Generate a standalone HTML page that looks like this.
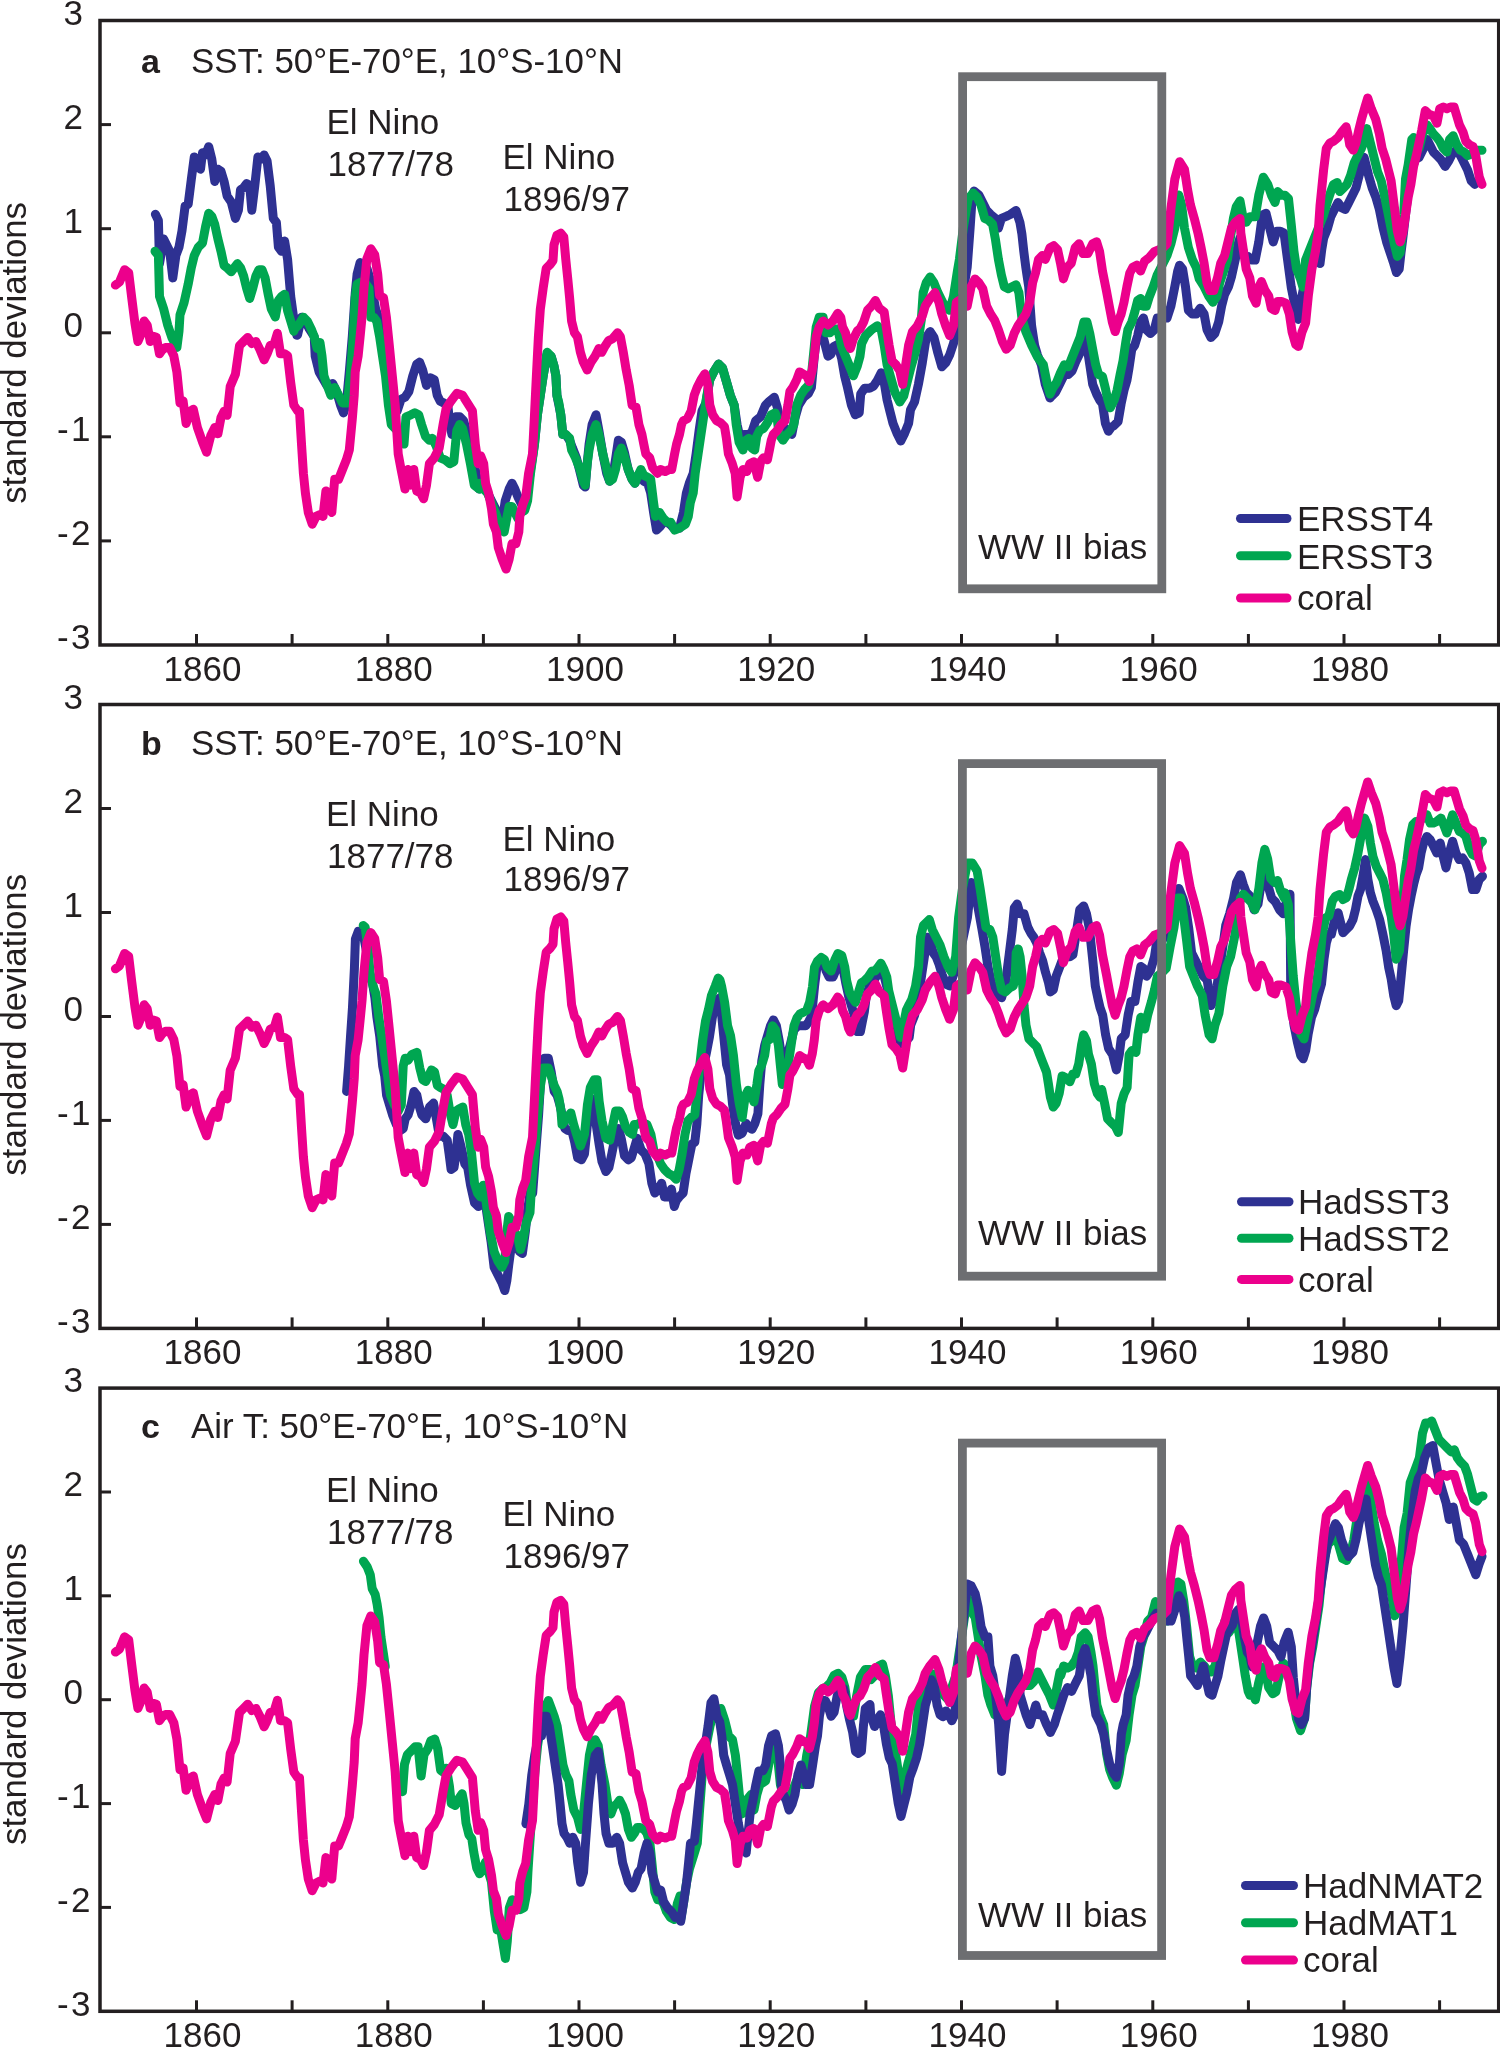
<!DOCTYPE html><html><head><meta charset="utf-8"><style>html,body{margin:0;padding:0;background:#fff;overflow:hidden;width:1500px;height:2048px;}svg{display:block;will-change:transform;}</style></head><body>
<svg width="1500" height="2048" viewBox="0 0 1500 2048" font-family="Liberation Sans, sans-serif" font-size="34" fill="#231f20">
<rect width="1500" height="2048" fill="#fff"/>
<polyline points="155.4,214.3 158.4,220.5 159.5,263.6 163.6,238.9 165.6,243.0 169.7,251.3 172.8,277.9 175.9,255.4 179.0,247.1 182.0,230.7 185.1,206.1 188.2,204.1 191.3,179.5 194.3,156.9 197.4,161.0 200.5,169.2 202.5,152.8 205.6,154.9 208.7,146.7 211.8,159.0 214.8,181.5 217.9,169.2 221.0,171.3 224.1,181.5 227.1,195.9 231.2,202.0 235.4,218.4 238.4,210.2 240.5,189.7 243.6,187.7 246.6,183.6 249.7,185.6 251.8,210.2 254.8,185.6 257.9,156.9 261.0,159.0 264.1,154.9 267.1,161.0 270.2,185.6 273.3,218.4 276.4,222.5 278.4,247.1 281.5,251.3 284.6,241.0 287.6,259.5 290.7,296.4 293.8,318.9 296.9,335.3 297.6,334.8 301.5,317.2 305.4,321.1 309.3,328.9 314.2,336.7 315.2,356.2 319.1,371.9 326.9,385.5 332.7,383.6 336.6,391.4 340.5,405.1 343.5,412.9 346.4,403.1 349.3,371.9 352.3,336.7 355.2,293.8 357.1,274.2 360.1,262.5 364.0,264.5 366.9,268.4 369.8,278.1 372.8,293.8 375.7,309.4 378.6,317.2 381.6,332.8 385.5,360.2 388.4,387.5 391.3,407.0 397.2,410.9 401.1,399.2 405.0,397.3 408.9,391.4 412.8,375.8 416.7,364.1 419.6,362.1 422.6,369.9 426.5,385.5 430.4,377.7 434.3,379.7 437.2,395.3 440.2,401.2 444.1,403.1 448.0,407.0 449.9,424.6 451.9,434.4 455.8,416.8 459.7,416.8 463.6,420.7 467.5,434.4 471.4,452.0 475.3,469.5 479.2,489.1 483.7,487.1 487.6,493.0 491.5,500.8 495.4,508.6 499.3,520.3 502.2,522.3 505.2,500.8 509.1,489.1 512.0,483.2 514.9,489.1 517.9,496.9 521.8,504.7 525.7,498.8 528.6,483.2 531.5,463.7 534.5,444.1 537.4,414.8 540.3,395.3 543.2,375.8 547.1,354.3 551.1,356.2 554.0,366.0 555.9,375.8 556.9,395.3 558.9,405.1 560.8,414.8 562.8,434.4 565.7,434.4 569.6,440.2 572.5,448.0 576.4,457.8 579.4,469.5 583.3,485.2 585.2,487.1 587.2,463.7 589.1,444.1 592.1,424.6 596.0,414.8 598.9,430.5 602.8,453.9 606.7,473.4 609.6,481.2 612.6,477.3 615.5,459.8 618.4,440.2 621.4,442.2 624.3,452.0 628.2,469.5 632.1,479.3 635.0,483.2 638.0,475.4 640.9,473.4 643.8,481.2 647.7,483.2 650.7,493.0 653.6,512.5 656.5,530.1 660.4,526.2 663.4,522.3 667.3,522.3 670.0,524.2 673.7,528.1 679.5,528.1 683.4,512.5 686.4,493.0 689.3,483.2 693.2,473.4 696.1,453.9 699.1,430.5 702.0,410.9 705.9,403.1 709.8,379.7 713.7,371.9 718.6,364.1 722.5,368.0 726.4,381.6 730.3,395.3 734.2,405.1 737.1,424.6 740.1,438.3 744.0,434.4 747.9,434.4 751.8,432.4 755.7,420.7 760.6,416.8 765.5,405.1 769.4,401.2 774.3,397.3 777.2,407.0 780.1,422.7 785.0,428.5 788.9,430.5 791.8,434.4 794.8,418.8 798.7,405.1 803.6,397.3 808.4,393.4 811.4,387.5 814.3,356.2 817.2,332.8 820.2,328.9 824.1,340.6 828.0,356.2 830.9,354.3 833.8,346.5 837.7,344.5 841.6,358.2 844.6,375.8 847.5,387.5 851.4,405.1 855.3,414.8 859.2,412.9 860.7,394.1 864.6,388.3 869.5,388.3 873.4,386.3 877.3,380.5 881.2,372.7 884.2,382.4 887.1,400.0 890.0,411.7 893.0,423.4 896.9,433.2 900.8,441.0 904.7,433.2 908.6,423.4 910.5,409.8 914.5,402.0 918.4,384.4 922.3,362.9 926.2,337.5 930.1,331.6 934.0,337.5 937.9,353.1 941.8,366.8 945.7,362.9 949.6,355.1 953.5,343.4 957.4,325.8 962.3,296.5 967.2,267.2 970.1,228.1 972.1,198.8 974.0,191.0 978.9,194.9 982.8,202.7 986.7,210.5 990.6,214.5 995.5,218.4 998.4,228.1 1001.4,218.4 1006.2,216.4 1010.2,214.5 1016.0,210.5 1019.9,222.3 1021.9,234.0 1023.8,251.6 1025.8,267.2 1028.7,286.7 1031.6,325.8 1034.6,345.3 1037.5,355.1 1041.4,364.8 1045.3,384.4 1050.0,398.0 1051.7,396.1 1055.6,392.2 1059.5,384.4 1064.4,374.6 1068.3,374.6 1072.2,370.7 1076.1,360.9 1080.0,353.1 1083.9,337.5 1086.9,345.3 1089.8,364.8 1092.7,384.4 1096.6,394.1 1099.6,400.0 1102.5,403.9 1105.4,423.4 1108.4,431.2 1111.3,427.3 1114.2,425.4 1118.1,421.5 1121.1,403.9 1124.0,390.2 1126.9,380.5 1128.9,368.8 1131.8,349.2 1134.7,345.3 1137.7,335.5 1140.6,321.9 1143.5,318.0 1146.4,329.7 1150.4,333.6 1154.3,329.7 1157.2,318.0 1162.1,318.0 1167.0,318.0 1170.9,306.2 1174.8,286.7 1177.7,271.1 1179.6,265.2 1182.6,269.1 1185.5,286.7 1188.4,310.2 1192.3,314.1 1196.2,314.1 1200.2,308.2 1204.1,314.1 1207.0,329.7 1210.9,337.5 1214.8,333.6 1218.7,321.9 1221.6,306.2 1224.6,294.5 1228.5,286.7 1231.4,277.0 1235.3,259.4 1238.2,243.8 1240.0,237.9 1240.8,242.0 1244.4,256.4 1248.0,256.4 1251.6,260.0 1255.2,260.0 1258.8,242.0 1262.4,215.0 1266.0,213.2 1269.6,227.6 1273.2,242.0 1276.8,231.2 1280.4,231.2 1284.0,233.0 1287.6,260.0 1291.2,287.0 1294.8,305.0 1298.4,319.4 1302.0,296.0 1305.6,278.0 1309.2,269.0 1312.8,260.0 1316.4,260.0 1320.0,263.6 1321.8,249.2 1323.6,238.4 1327.2,229.4 1330.8,216.8 1334.4,209.6 1338.0,202.4 1341.6,207.8 1345.2,209.6 1348.8,202.4 1352.4,195.2 1356.0,188.0 1359.6,173.6 1364.1,157.4 1368.6,175.4 1372.2,188.0 1375.8,197.0 1379.4,209.6 1383.0,227.6 1386.6,242.0 1390.2,252.8 1393.8,263.6 1396.5,272.6 1399.2,269.0 1401.0,252.8 1402.8,238.4 1405.5,215.0 1408.2,191.6 1411.8,170.0 1415.4,159.2 1419.0,157.4 1423.5,148.4 1427.1,139.4 1429.8,144.8 1433.4,152.0 1437.0,155.6 1440.6,159.2 1445.1,166.4 1448.7,161.0 1453.2,152.0 1456.8,150.2 1460.4,155.6 1464.0,162.8 1467.6,170.0 1471.2,180.8 1474.8,184.4" fill="none" stroke="#2e3192" stroke-width="9" stroke-linejoin="round" stroke-linecap="round"/>
<polyline points="155.0,251.3 158.4,255.4 159.5,296.4 163.6,308.7 167.7,325.1 171.8,337.4 176.9,347.6 179.0,331.2 180.0,314.8 184.1,302.5 188.2,284.1 191.3,267.7 194.3,255.4 198.4,247.1 202.5,243.0 205.6,226.6 208.7,213.3 211.8,216.4 214.8,224.6 217.9,238.9 221.0,251.3 224.1,265.6 227.1,267.7 231.2,271.8 234.3,267.7 237.4,263.6 240.5,267.7 243.6,275.9 246.6,288.2 249.7,298.4 252.8,288.2 255.9,275.9 258.9,269.7 262.0,269.7 265.1,277.9 268.2,294.3 271.2,308.7 275.3,316.9 278.4,300.5 281.5,296.4 284.6,294.3 287.6,310.7 290.7,321.0 293.8,331.2 294.6,328.9 298.6,325.0 303.4,317.2 307.3,321.1 311.2,328.9 314.2,336.7 317.1,348.4 320.0,342.6 322.0,356.2 323.9,375.8 327.9,387.5 330.8,395.3 334.7,387.5 338.6,395.3 342.5,403.1 347.4,403.1 350.3,375.8 353.2,336.7 355.2,297.7 357.1,284.0 361.1,282.0 365.9,284.0 368.9,287.9 370.8,317.2 373.8,317.2 376.7,321.1 379.6,336.7 382.5,356.2 385.5,375.8 388.4,405.1 391.3,424.6 395.2,428.5 401.1,434.4 404.0,444.1 406.0,416.8 410.9,414.8 414.8,412.9 418.7,414.8 421.6,424.6 425.5,436.3 429.4,440.2 432.3,438.3 436.2,446.1 440.2,457.8 445.0,459.8 449.9,463.7 453.8,461.7 456.8,430.5 459.7,424.6 462.6,428.5 466.5,444.1 470.4,463.7 474.3,485.2 479.2,489.1 479.8,483.2 483.7,489.1 487.6,493.0 491.5,502.7 495.4,512.5 499.3,524.2 504.2,532.0 507.1,516.4 509.1,506.6 512.0,506.6 514.9,512.5 517.9,518.4 520.8,512.5 524.7,510.5 527.6,500.8 530.5,473.4 534.5,444.1 537.4,414.8 540.3,395.3 543.2,375.8 547.1,352.3 551.1,356.2 554.0,366.0 555.9,375.8 556.9,395.3 558.9,403.1 560.8,414.8 562.8,434.4 565.7,434.4 569.6,438.3 571.6,450.0 575.5,457.8 579.4,467.6 583.3,481.2 585.2,485.2 587.2,463.7 589.1,450.0 592.1,434.4 596.0,424.6 598.9,434.4 602.8,453.9 606.7,469.5 609.6,481.2 612.6,479.3 615.5,469.5 618.4,453.9 621.4,448.0 624.3,455.9 628.2,469.5 632.1,479.3 635.0,483.2 638.0,475.4 640.9,469.5 643.8,475.4 647.7,477.3 650.7,479.3 653.6,502.7 655.5,516.4 659.5,512.5 663.4,518.4 667.3,522.3 670.0,522.3 670.7,522.3 674.6,530.1 679.5,528.1 685.4,524.2 688.3,516.4 690.3,502.7 693.2,493.0 695.2,473.4 698.1,453.9 701.0,434.4 703.9,414.8 706.9,395.3 709.8,379.7 713.7,371.9 718.6,364.1 722.5,368.0 726.4,381.6 730.3,395.3 734.2,405.1 736.2,424.6 739.1,442.2 743.0,450.0 745.9,440.2 748.9,438.3 751.8,448.0 754.7,450.0 756.7,436.3 759.6,430.5 763.5,428.5 767.4,422.7 771.3,414.8 775.2,412.9 777.2,418.8 779.1,434.4 783.0,440.2 787.0,434.4 790.9,430.5 793.8,424.6 796.7,405.1 800.6,395.3 804.5,389.5 808.4,385.5 811.4,375.8 814.3,346.5 816.2,327.0 819.2,317.2 823.1,317.2 826.0,332.8 829.9,332.8 833.8,328.9 837.7,328.9 841.6,346.5 845.5,356.2 849.5,366.0 853.4,375.8 857.3,366.0 860.0,356.2 861.7,343.4 865.6,335.5 871.5,329.7 877.3,325.8 881.2,329.7 884.2,345.3 887.1,364.8 891.0,378.5 894.9,392.2 899.8,402.0 903.7,396.1 906.6,384.4 910.5,368.8 914.5,355.1 918.4,339.5 921.3,319.9 923.2,292.6 926.2,282.8 930.1,277.0 934.0,282.8 937.9,292.6 941.8,300.4 945.7,308.2 949.6,310.2 953.5,296.5 957.4,271.1 959.4,259.4 963.3,228.1 968.2,198.8 973.0,193.0 977.0,196.9 980.9,204.7 984.8,218.4 988.7,220.3 992.6,224.2 995.5,239.8 998.4,259.4 1001.4,275.0 1004.3,286.7 1008.2,288.7 1012.1,286.7 1016.0,284.8 1018.9,292.6 1021.9,318.0 1025.8,331.6 1031.6,345.3 1037.5,357.0 1043.4,364.8 1047.3,384.4 1050.0,394.1 1052.7,388.3 1056.6,382.4 1060.5,372.7 1064.4,364.8 1068.3,366.8 1072.2,357.0 1076.1,347.3 1080.0,337.5 1083.9,321.9 1086.9,321.9 1089.8,333.6 1092.7,349.2 1095.7,364.8 1098.6,374.6 1102.5,376.6 1105.4,388.3 1107.4,398.0 1110.3,407.8 1114.2,400.0 1117.1,390.2 1120.1,374.6 1123.0,360.9 1125.9,341.4 1127.9,329.7 1131.8,321.9 1134.7,312.1 1137.7,300.4 1140.6,298.4 1143.5,306.2 1146.4,306.2 1149.4,296.5 1153.3,286.7 1157.2,275.0 1162.1,265.2 1167.0,255.5 1170.9,243.8 1174.8,228.1 1178.7,194.9 1181.6,204.7 1184.5,228.1 1188.4,247.7 1192.3,259.4 1196.2,267.2 1199.2,278.9 1204.1,286.7 1208.9,296.5 1212.9,302.3 1216.8,296.5 1219.7,282.8 1223.6,271.1 1227.5,259.4 1230.4,237.9 1233.4,218.4 1236.3,206.6 1240.0,200.8 1242.6,215.0 1246.2,222.2 1249.8,216.8 1255.2,216.8 1258.8,195.2 1263.3,177.2 1267.8,184.4 1271.4,195.2 1275.0,202.4 1277.7,191.6 1281.3,195.2 1284.9,195.2 1288.5,198.8 1291.2,224.0 1293.9,251.0 1296.6,269.0 1300.2,278.0 1302.9,287.0 1305.6,260.0 1309.2,251.0 1312.8,242.0 1316.4,233.0 1320.0,224.0 1323.6,215.0 1327.2,202.4 1330.8,191.6 1333.5,184.4 1337.1,182.6 1339.8,191.6 1343.4,188.0 1347.0,184.4 1350.6,175.4 1354.2,162.8 1357.8,155.6 1361.4,148.4 1364.1,141.2 1366.8,128.6 1370.4,143.0 1374.0,157.4 1377.6,171.8 1381.2,180.8 1384.8,197.0 1388.4,215.0 1392.0,233.0 1394.7,245.6 1397.4,256.4 1400.1,252.8 1401.9,238.4 1403.7,215.0 1405.5,179.0 1408.2,164.6 1411.8,139.4 1413.6,137.6 1416.3,152.0 1419.0,148.4 1422.6,134.0 1427.1,125.0 1429.8,128.6 1433.4,134.0 1437.0,137.6 1439.7,141.2 1443.3,148.4 1446.9,152.0 1449.6,139.4 1453.2,135.8 1456.8,144.8 1460.4,150.2 1464.0,152.0 1467.6,155.6 1472.1,153.8 1476.6,150.2 1482.0,150.2" fill="none" stroke="#00a651" stroke-width="9" stroke-linejoin="round" stroke-linecap="round"/>
<polyline points="115.4,285.1 119.5,282.0 124.6,269.7 128.7,272.8 131.8,298.4 134.9,323.0 137.9,341.5 141.0,334.3 144.1,321.0 147.2,325.1 150.2,341.5 153.3,336.4 156.4,337.4 159.5,353.8 162.5,349.7 165.6,347.6 169.7,347.6 173.8,355.8 176.9,372.2 180.0,403.0 183.1,401.0 186.1,423.5 190.2,411.2 193.3,409.2 197.4,427.6 202.5,442.0 206.6,452.2 210.7,435.8 214.8,427.6 217.9,433.8 221.0,417.4 224.1,411.2 227.1,415.3 230.2,386.6 235.4,374.3 239.5,345.6 243.6,341.5 247.7,337.4 251.8,343.5 255.9,341.5 260.0,349.7 264.1,359.9 267.1,353.8 270.2,345.6 274.3,343.5 277.4,333.3 280.5,353.8 284.6,353.8 287.6,355.8 290.7,382.5 293.8,405.1 297.9,411.2 299.5,410.9 301.5,444.1 303.4,473.4 305.4,493.0 308.3,512.5 312.2,524.2 316.1,516.4 320.0,514.5 323.0,516.4 325.9,491.0 328.8,502.7 331.8,512.5 334.7,479.3 338.6,479.3 342.5,469.5 346.4,459.8 349.3,450.0 352.3,418.8 354.2,395.3 355.2,371.9 358.1,356.2 360.1,336.7 362.0,317.2 364.0,287.9 366.9,258.6 370.8,248.8 374.7,254.7 377.7,274.2 379.6,295.7 383.5,297.7 386.4,317.2 389.4,346.5 392.3,375.8 395.2,405.1 398.2,453.9 401.1,469.5 405.0,489.1 407.9,469.5 410.9,485.2 413.8,469.5 416.7,491.0 420.6,493.0 423.6,498.8 426.5,485.2 429.4,463.7 434.3,457.8 439.2,448.0 443.1,424.6 446.0,409.0 450.9,401.2 456.8,393.4 462.6,395.3 467.5,403.1 472.4,410.9 475.3,444.1 478.2,463.7 480.7,455.9 483.7,463.7 485.6,483.2 488.6,493.0 491.5,508.6 493.4,524.2 496.4,532.0 498.3,547.7 502.2,559.4 506.1,569.1 509.1,559.4 512.0,543.8 515.9,543.8 518.8,532.0 519.8,516.4 522.7,504.7 525.7,496.9 528.6,473.4 532.5,453.9 534.5,414.8 536.4,375.8 538.4,336.7 540.3,309.4 543.2,287.9 546.2,268.4 550.1,264.5 553.0,260.5 554.0,244.9 556.9,235.2 560.8,233.2 563.8,237.1 565.7,258.6 567.7,278.1 569.6,297.7 571.6,321.1 574.5,332.8 577.4,336.7 580.4,352.3 583.3,362.1 587.2,369.9 591.1,362.1 595.0,356.2 598.9,348.4 601.8,352.3 604.8,346.5 608.7,340.6 612.6,338.7 617.5,332.8 620.4,336.7 623.3,352.3 626.2,369.9 629.2,385.5 632.1,405.1 636.0,407.0 638.9,424.6 641.9,434.4 643.8,444.1 645.8,453.9 649.7,457.8 652.6,467.6 657.5,473.4 660.4,469.5 665.3,471.5 669.2,469.5 671.7,469.5 674.6,453.9 676.6,444.1 679.5,434.4 681.5,424.6 683.4,420.7 687.3,418.8 691.2,410.9 694.2,395.3 697.1,387.5 701.0,379.7 704.9,373.8 707.9,385.5 709.8,405.1 712.7,414.8 716.6,420.7 720.5,422.7 724.5,426.6 726.4,438.3 728.4,453.9 732.3,463.7 735.2,473.4 737.1,496.9 740.1,477.3 743.0,469.5 746.9,471.5 749.8,463.7 753.8,461.7 757.7,477.3 760.6,461.7 763.5,457.8 767.4,459.8 769.4,450.0 771.3,440.2 773.3,434.4 777.2,430.5 781.1,424.6 785.0,420.7 787.9,405.1 789.9,391.4 792.8,387.5 796.7,379.7 799.6,371.9 802.6,373.8 806.5,375.8 809.4,381.6 812.3,369.9 814.3,356.2 816.2,336.7 819.2,327.0 823.1,321.1 828.0,325.0 832.9,321.1 837.7,313.3 840.7,317.2 842.6,327.0 845.5,332.8 848.5,344.5 850.4,348.4 853.4,338.7 857.3,330.9 860.0,328.9 863.7,321.9 867.6,310.2 871.5,306.2 875.4,300.4 879.3,308.2 884.2,312.1 886.1,325.8 889.1,345.3 892.0,360.9 895.9,364.8 899.8,370.7 902.7,384.4 905.7,364.8 908.6,345.3 912.5,331.6 917.4,325.8 922.3,316.0 925.2,306.2 930.1,298.4 935.0,292.6 938.9,302.3 941.8,314.1 945.7,325.8 949.6,335.5 953.5,325.8 956.4,302.3 959.4,300.4 963.3,304.3 967.2,306.2 971.1,286.7 975.0,278.9 978.9,282.8 982.8,288.7 986.7,306.2 990.6,314.1 994.5,319.9 998.4,329.7 1002.3,341.4 1006.2,349.2 1010.2,345.3 1014.1,333.6 1018.0,325.8 1021.9,319.9 1025.8,314.1 1029.7,302.3 1032.6,282.8 1035.5,273.0 1038.5,259.4 1042.4,255.5 1045.3,259.4 1050.0,247.7 1053.7,245.7 1057.6,249.6 1060.5,263.3 1063.4,278.9 1067.3,267.2 1071.2,263.3 1075.2,247.7 1079.1,243.8 1083.0,253.5 1087.9,253.5 1092.7,243.8 1096.6,241.8 1099.6,251.6 1102.5,271.1 1106.4,290.6 1109.3,306.2 1112.3,321.9 1115.2,331.6 1118.1,321.9 1121.1,314.1 1124.0,302.3 1126.9,286.7 1129.8,273.0 1132.8,267.2 1136.7,265.2 1140.6,271.1 1144.5,261.3 1149.4,257.4 1154.3,251.6 1159.1,249.6 1163.0,247.7 1167.0,243.8 1170.9,208.6 1174.8,179.3 1179.6,161.7 1184.5,169.5 1187.5,189.1 1190.4,204.7 1194.3,218.4 1198.2,234.0 1201.1,247.7 1204.1,263.3 1207.0,282.8 1209.9,290.6 1213.8,290.6 1217.7,277.0 1220.7,263.3 1224.6,255.5 1227.5,243.8 1231.4,228.1 1235.3,222.3 1240.0,218.4 1240.8,233.0 1243.5,251.0 1246.2,269.0 1249.8,278.0 1252.5,296.0 1256.1,303.2 1258.8,287.0 1261.5,281.6 1265.1,290.6 1268.7,296.0 1271.4,308.6 1275.0,310.4 1277.7,301.4 1281.3,301.4 1285.8,303.2 1289.4,314.0 1292.1,332.0 1295.7,344.6 1298.4,346.4 1302.0,332.0 1305.6,323.0 1308.3,296.0 1311.9,269.0 1315.5,251.0 1318.2,233.0 1320.0,206.0 1321.8,188.0 1323.6,170.0 1326.3,148.4 1329.9,143.0 1333.5,141.2 1338.0,137.6 1341.6,132.2 1346.1,126.8 1347.9,134.0 1349.7,144.8 1353.3,150.2 1356.0,143.0 1358.7,130.4 1361.4,119.6 1365.0,107.0 1367.7,98.0 1371.3,108.8 1375.8,119.6 1379.4,134.0 1382.1,148.4 1385.7,159.2 1388.4,170.0 1391.1,180.8 1392.9,195.2 1394.7,209.6 1397.4,231.2 1400.1,242.0 1402.8,233.0 1405.5,215.0 1408.2,197.0 1410.9,184.4 1413.6,166.4 1416.3,155.6 1419.0,143.0 1421.7,130.4 1425.3,110.6 1428.9,114.2 1433.4,116.0 1437.0,123.2 1439.7,108.8 1443.3,107.0 1446.9,108.8 1450.5,107.0 1454.1,107.0 1456.8,116.0 1459.5,125.0 1463.1,132.2 1465.8,141.2 1469.4,144.8 1473.0,146.6 1475.7,155.6 1477.5,166.4 1479.3,177.2 1482.0,184.4" fill="none" stroke="#ec008c" stroke-width="9" stroke-linejoin="round" stroke-linecap="round"/>
<rect x="962.6" y="76.7" width="199.19999999999993" height="512.0999999999999" fill="none" stroke="#6d6e71" stroke-width="8.8"/>
<text x="978" y="559.1" font-size="35">WW II bias</text>
<rect x="100" y="20.5" width="1398.7" height="624.5" fill="none" stroke="#231f20" stroke-width="3.5"/>
<text x="73.3" y="24.7" text-anchor="middle" font-size="35">3</text>
<line x1="100" y1="124.6" x2="111" y2="124.6" stroke="#231f20" stroke-width="3"/>
<text x="73.3" y="128.8" text-anchor="middle" font-size="35">2</text>
<line x1="100" y1="228.7" x2="111" y2="228.7" stroke="#231f20" stroke-width="3"/>
<text x="73.3" y="232.9" text-anchor="middle" font-size="35">1</text>
<line x1="100" y1="332.8" x2="111" y2="332.8" stroke="#231f20" stroke-width="3"/>
<text x="73.3" y="336.9" text-anchor="middle" font-size="35">0</text>
<line x1="100" y1="436.8" x2="111" y2="436.8" stroke="#231f20" stroke-width="3"/>
<text x="75.0" y="441.0" text-anchor="middle" font-size="35" letter-spacing="2.5">-1</text>
<line x1="100" y1="540.9" x2="111" y2="540.9" stroke="#231f20" stroke-width="3"/>
<text x="75.0" y="545.1" text-anchor="middle" font-size="35" letter-spacing="2.5">-2</text>
<text x="75.0" y="649.2" text-anchor="middle" font-size="35" letter-spacing="2.5">-3</text>
<line x1="196.5" y1="645.0" x2="196.5" y2="634.0" stroke="#231f20" stroke-width="3"/>
<text x="202.5" y="681.0" text-anchor="middle" font-size="35">1860</text>
<line x1="292.1" y1="645.0" x2="292.1" y2="634.0" stroke="#231f20" stroke-width="3"/>
<line x1="387.8" y1="645.0" x2="387.8" y2="634.0" stroke="#231f20" stroke-width="3"/>
<text x="393.8" y="681.0" text-anchor="middle" font-size="35">1880</text>
<line x1="483.4" y1="645.0" x2="483.4" y2="634.0" stroke="#231f20" stroke-width="3"/>
<line x1="579.0" y1="645.0" x2="579.0" y2="634.0" stroke="#231f20" stroke-width="3"/>
<text x="585.0" y="681.0" text-anchor="middle" font-size="35">1900</text>
<line x1="674.6" y1="645.0" x2="674.6" y2="634.0" stroke="#231f20" stroke-width="3"/>
<line x1="770.2" y1="645.0" x2="770.2" y2="634.0" stroke="#231f20" stroke-width="3"/>
<text x="776.2" y="681.0" text-anchor="middle" font-size="35">1920</text>
<line x1="865.9" y1="645.0" x2="865.9" y2="634.0" stroke="#231f20" stroke-width="3"/>
<line x1="961.5" y1="645.0" x2="961.5" y2="634.0" stroke="#231f20" stroke-width="3"/>
<text x="967.5" y="681.0" text-anchor="middle" font-size="35">1940</text>
<line x1="1057.1" y1="645.0" x2="1057.1" y2="634.0" stroke="#231f20" stroke-width="3"/>
<line x1="1152.8" y1="645.0" x2="1152.8" y2="634.0" stroke="#231f20" stroke-width="3"/>
<text x="1158.8" y="681.0" text-anchor="middle" font-size="35">1960</text>
<line x1="1248.4" y1="645.0" x2="1248.4" y2="634.0" stroke="#231f20" stroke-width="3"/>
<line x1="1344.0" y1="645.0" x2="1344.0" y2="634.0" stroke="#231f20" stroke-width="3"/>
<text x="1350.0" y="681.0" text-anchor="middle" font-size="35">1980</text>
<line x1="1439.6" y1="645.0" x2="1439.6" y2="634.0" stroke="#231f20" stroke-width="3"/>
<text transform="translate(25.5,352.9) rotate(-90)" text-anchor="middle" font-size="34.8">standard deviations</text>
<text x="141" y="72.7" font-weight="bold">a</text>
<text x="191" y="72.7" font-size="34.9">SST: 50°E-70°E, 10°S-10°N</text>
<text x="326.5" y="134.2" font-size="35">El Nino</text>
<text x="327.5" y="175.5" font-size="35">1877/78</text>
<text x="502.5" y="169.2" font-size="35">El Nino</text>
<text x="503.5" y="211.2" font-size="35">1896/97</text>
<line x1="1240.5" y1="518.5" x2="1287" y2="518.5" stroke="#2e3192" stroke-width="9" stroke-linecap="round"/>
<line x1="1240.5" y1="555.8" x2="1287" y2="555.8" stroke="#00a651" stroke-width="9" stroke-linecap="round"/>
<line x1="1240.5" y1="598" x2="1287" y2="598" stroke="#ec008c" stroke-width="9" stroke-linecap="round"/>
<text x="1297" y="531.1999999999999" font-size="35">ERSST4</text>
<text x="1297" y="569.3" font-size="35">ERSST3</text>
<text x="1297" y="609.5999999999999" font-size="35">coral</text>
<polyline points="346.6,1091.4 348.6,1066.0 350.5,1036.7 352.5,1007.4 354.4,968.4 355.4,939.1 358.3,931.2 361.2,935.2 364.2,939.1 367.1,954.7 369.1,978.1 372.0,980.1 374.9,997.7 376.9,1017.2 379.8,1036.7 382.7,1066.0 384.7,1075.8 386.6,1095.3 389.6,1105.1 392.5,1114.8 396.4,1124.6 400.3,1130.5 403.2,1128.5 405.2,1118.8 408.1,1114.8 411.1,1105.1 414.0,1091.4 416.9,1095.3 418.9,1105.1 421.8,1114.8 425.7,1118.8 429.6,1107.0 433.5,1103.1 436.4,1118.8 439.4,1136.3 443.3,1136.3 447.2,1140.2 449.1,1153.9 451.1,1169.5 454.0,1167.6 456.0,1153.9 457.9,1134.4 460.9,1146.1 464.8,1163.7 467.7,1167.6 470.6,1185.2 474.5,1202.7 478.4,1206.6 482.3,1202.7 485.3,1202.7 488.2,1222.3 491.1,1241.8 494.1,1267.2 498.0,1275.0 501.9,1282.8 504.8,1290.6 506.8,1280.9 508.7,1265.2 511.6,1243.8 515.5,1239.8 519.5,1251.6 522.4,1253.5 525.3,1232.0 527.3,1212.5 530.0,1193.0 532.7,1193.0 535.6,1153.9 538.6,1114.8 541.5,1066.0 544.4,1058.2 548.3,1058.2 551.2,1071.9 554.2,1091.4 557.1,1095.3 560.0,1105.1 562.0,1114.8 564.9,1128.5 567.9,1130.5 571.8,1130.5 574.7,1142.2 577.6,1157.8 581.5,1159.8 584.5,1153.9 587.4,1124.6 590.3,1105.1 593.2,1099.2 596.2,1124.6 599.1,1144.1 602.0,1161.7 605.9,1171.5 608.9,1167.6 611.8,1153.9 615.7,1134.4 618.6,1128.5 621.6,1140.2 624.5,1155.9 628.4,1159.8 631.3,1157.8 634.3,1148.0 637.2,1138.3 641.1,1150.0 645.0,1153.9 648.9,1163.7 651.8,1183.2 654.8,1193.0 658.7,1189.1 661.6,1183.2 664.5,1196.9 668.4,1196.9 671.4,1189.1 674.3,1206.6 676.2,1200.8 679.2,1196.9 683.1,1193.0 686.0,1173.4 688.0,1163.7 689.9,1153.9 691.9,1144.1 694.8,1142.2 696.8,1124.6 698.7,1095.3 700.7,1075.8 703.6,1066.0 706.5,1052.3 709.5,1036.7 712.4,1017.2 715.3,1001.6 720.0,997.7 722.7,1025.8 726.6,1064.8 729.5,1074.6 732.5,1103.9 735.4,1123.4 738.3,1135.2 742.2,1133.2 746.1,1123.4 749.1,1127.3 752.0,1129.3 754.9,1123.4 757.9,1113.7 759.8,1084.4 761.8,1060.9 764.7,1045.3 767.6,1035.5 770.5,1025.8 773.5,1019.9 776.4,1025.8 779.3,1041.4 781.3,1055.1 784.2,1068.8 787.1,1055.1 790.1,1045.3 794.0,1029.7 797.9,1025.8 801.8,1025.8 805.7,1025.8 808.6,1021.9 811.6,1016.0 814.5,986.7 817.4,963.3 820.4,959.4 823.3,961.3 826.2,971.1 829.1,977.0 833.0,977.0 837.0,967.2 839.9,959.4 842.8,967.2 845.7,982.8 848.7,996.5 851.6,1006.2 854.5,1016.0 857.5,1031.6 860.4,1031.6 862.3,1021.9 864.3,1012.1 866.2,996.5 869.2,986.7 872.1,982.8 876.0,977.0 879.9,971.1 883.8,975.0 886.8,986.7 889.7,1002.3 892.6,1016.0 895.5,1025.8 899.5,1043.4 902.4,1043.4 905.3,1041.4 909.2,1037.5 910.7,1025.1 914.6,1015.3 918.6,995.8 921.5,976.2 924.4,956.7 927.3,937.2 930.3,941.1 933.2,952.8 936.1,956.7 939.1,964.5 942.0,974.3 945.9,984.1 949.8,986.0 953.7,974.3 956.6,966.5 962.5,941.1 967.4,917.7 971.3,882.5 975.2,892.3 978.1,907.9 982.0,929.4 985.0,947.0 987.9,966.5 990.8,980.2 993.8,991.9 997.7,995.8 1001.6,997.7 1004.5,988.0 1006.4,976.2 1009.4,952.8 1012.3,929.4 1014.3,907.9 1017.2,904.0 1020.1,913.8 1024.0,913.8 1027.9,927.4 1030.9,933.3 1033.8,937.2 1036.7,943.0 1039.6,952.8 1042.6,960.6 1045.5,972.3 1048.4,982.1 1050.4,991.9 1053.3,989.9 1056.2,976.2 1059.2,968.4 1062.1,960.6 1066.0,956.7 1069.9,956.7 1072.9,954.8 1076.8,929.4 1079.7,909.8 1083.6,905.9 1086.5,913.8 1089.5,929.4 1092.4,956.7 1095.3,986.0 1098.2,999.7 1100.0,1007.5 1102.7,1015.3 1105.6,1034.8 1108.6,1048.5 1112.5,1054.4 1116.4,1070.0 1119.3,1054.4 1121.2,1038.8 1125.2,1034.8 1128.1,1015.3 1131.0,1001.6 1134.9,1001.6 1137.9,982.1 1140.8,966.5 1143.7,968.4 1146.6,976.2 1150.5,970.4 1154.5,956.7 1157.4,937.2 1162.3,937.2 1166.2,937.2 1170.1,917.7 1174.0,902.0 1178.9,888.4 1182.8,898.1 1185.7,907.9 1188.6,927.4 1191.6,952.8 1195.5,960.6 1199.4,968.4 1203.3,976.2 1207.2,980.2 1211.1,1005.5 1214.0,999.7 1217.0,986.0 1219.9,966.5 1222.8,947.0 1225.7,925.5 1229.6,913.8 1233.6,898.1 1236.5,882.5 1240.4,874.7 1243.3,884.5 1246.2,892.3 1250.2,896.2 1254.1,909.8 1258.0,904.0 1261.9,878.6 1264.8,863.0 1267.7,884.5 1271.6,898.1 1275.5,902.0 1279.5,909.8 1283.4,913.8 1287.3,898.1 1290.0,894.2 1290.8,1000.7 1294.1,1025.6 1297.4,1042.2 1300.7,1055.5 1303.2,1058.8 1305.7,1050.5 1308.2,1033.9 1311.5,1017.3 1314.8,1009.0 1318.1,995.7 1321.5,984.1 1324.0,959.2 1326.4,942.6 1328.9,934.3 1331.4,934.3 1334.7,919.4 1338.1,912.7 1340.6,922.7 1343.0,932.7 1346.4,929.3 1349.7,926.0 1353.0,919.4 1355.5,909.4 1358.0,896.1 1360.5,889.5 1363.0,876.2 1365.5,859.6 1367.9,879.5 1370.4,892.8 1372.9,901.1 1376.2,909.4 1379.6,919.4 1382.9,934.3 1386.2,950.9 1388.7,967.5 1391.2,979.1 1393.7,995.7 1396.2,1005.7 1398.7,1000.7 1401.2,975.8 1403.6,950.9 1406.1,926.0 1408.6,909.4 1411.1,896.1 1413.6,884.5 1416.1,874.6 1418.6,867.9 1421.1,853.0 1423.6,843.0 1426.9,836.4 1430.2,839.7 1433.5,846.3 1436.8,853.0 1440.2,843.0 1443.5,857.9 1446.0,867.9 1449.3,853.0 1452.6,841.3 1455.9,853.0 1459.3,859.6 1462.6,857.9 1465.9,862.9 1469.2,872.9 1472.5,889.5 1475.9,889.5 1479.2,879.5 1482.5,876.2" fill="none" stroke="#2e3192" stroke-width="9" stroke-linejoin="round" stroke-linecap="round"/>
<polyline points="363.2,925.4 365.2,927.3 368.1,948.8 370.0,972.3 373.0,985.9 375.9,993.8 378.8,1017.2 381.8,1036.7 384.7,1056.2 387.6,1075.8 390.5,1095.3 394.5,1105.1 398.4,1110.9 401.3,1105.1 403.2,1066.0 405.2,1058.2 408.1,1060.2 412.0,1054.3 416.9,1052.3 419.8,1068.0 422.8,1079.7 425.7,1081.6 428.6,1075.8 431.6,1069.9 434.5,1071.9 437.4,1085.5 440.4,1087.5 444.3,1089.5 447.2,1095.3 450.1,1112.9 453.0,1124.6 456.0,1110.9 458.9,1109.0 462.8,1107.0 465.7,1124.6 468.7,1134.4 471.6,1153.9 474.5,1183.2 477.5,1193.0 480.4,1196.9 483.3,1185.2 486.2,1202.7 490.2,1232.0 494.1,1251.6 498.0,1261.3 501.9,1267.2 504.8,1261.3 506.8,1232.0 508.7,1216.4 510.7,1220.3 514.6,1232.0 517.5,1235.9 520.4,1249.6 523.4,1237.9 526.3,1222.3 530.0,1212.5 531.7,1183.2 534.6,1153.9 537.6,1114.8 540.5,1085.5 543.4,1068.0 548.3,1068.0 551.2,1075.8 554.2,1085.5 557.1,1091.4 559.1,1099.2 561.0,1110.9 562.0,1124.6 564.9,1120.7 567.9,1116.8 570.8,1112.9 573.7,1124.6 576.6,1134.4 580.5,1146.1 584.5,1134.4 587.4,1105.1 590.3,1087.5 594.2,1079.7 597.1,1079.7 599.1,1101.2 602.0,1120.7 605.9,1138.3 609.8,1140.2 612.8,1124.6 615.7,1110.9 619.6,1110.9 622.5,1116.8 625.5,1126.6 629.4,1132.4 632.3,1134.4 634.3,1124.6 637.2,1124.6 640.1,1122.7 643.0,1122.7 647.0,1124.6 650.9,1134.4 653.8,1150.0 656.7,1153.9 660.6,1163.7 664.5,1169.5 668.4,1173.4 672.3,1175.4 676.2,1179.3 679.2,1169.5 682.1,1153.9 685.0,1134.4 688.0,1120.7 691.9,1116.8 694.8,1114.8 696.8,1095.3 699.7,1066.0 702.6,1040.6 705.5,1021.1 708.5,1009.4 711.4,995.7 715.3,985.9 718.2,978.1 720.0,980.1 721.7,986.7 724.6,1002.3 727.6,1025.8 730.5,1035.5 733.4,1055.1 736.4,1084.4 739.3,1103.9 742.2,1117.6 745.2,1096.1 748.1,1090.2 751.0,1094.1 753.9,1102.0 756.9,1084.4 758.8,1070.7 761.8,1064.8 764.7,1055.1 766.6,1041.4 769.6,1039.5 772.5,1025.8 775.4,1029.7 778.4,1045.3 780.3,1064.8 782.3,1084.4 785.2,1074.6 788.1,1064.8 791.1,1045.3 794.0,1025.8 796.9,1018.0 799.8,1014.1 803.8,1012.1 806.7,1010.2 809.6,1002.3 812.5,986.7 814.5,967.2 817.4,961.3 821.3,957.4 824.3,959.4 827.2,967.2 831.1,971.1 835.0,959.4 837.9,953.5 841.8,955.5 844.8,967.2 846.7,980.9 849.6,992.6 852.6,998.4 855.5,1002.3 858.4,992.6 861.4,982.8 864.3,980.9 868.2,977.0 872.1,971.1 875.0,971.1 878.0,967.2 880.9,963.3 883.8,969.1 886.8,977.0 888.7,990.6 891.6,1002.3 894.6,1014.1 897.5,1025.8 900.4,1037.5 903.4,1025.8 906.3,1010.2 909.2,1004.3 911.7,999.7 915.6,986.0 918.6,966.5 920.5,937.2 923.4,925.5 929.3,919.6 932.2,929.4 936.1,937.2 940.0,945.0 943.9,956.7 947.9,966.5 951.8,972.3 955.7,956.7 958.6,917.7 962.5,888.4 967.4,863.0 972.3,863.0 977.1,870.8 980.1,888.4 983.0,907.9 985.9,927.4 989.8,929.4 992.8,937.2 995.7,956.7 998.6,976.2 1001.6,989.9 1005.5,991.9 1009.4,988.0 1013.3,986.0 1015.2,976.2 1016.2,952.8 1018.2,948.9 1020.1,956.7 1022.1,976.2 1024.0,1005.5 1026.0,1025.1 1028.9,1038.8 1032.8,1042.7 1036.7,1046.6 1039.6,1054.4 1042.6,1062.2 1046.5,1072.0 1048.4,1083.7 1050.4,1097.3 1053.3,1107.1 1056.2,1103.2 1059.2,1093.4 1062.1,1075.9 1066.0,1077.8 1069.9,1081.7 1072.9,1073.9 1075.8,1073.9 1078.7,1064.1 1081.6,1044.6 1083.6,1034.8 1086.5,1040.7 1088.5,1054.4 1091.4,1064.1 1094.3,1083.7 1097.3,1093.4 1100.0,1097.3 1101.7,1089.5 1104.6,1103.2 1107.6,1118.8 1111.5,1122.7 1115.4,1126.6 1118.3,1132.5 1121.2,1103.2 1124.2,1093.4 1127.1,1087.6 1129.1,1054.4 1132.0,1050.5 1135.9,1052.4 1137.9,1034.8 1140.8,1017.3 1144.7,1029.0 1147.6,1015.3 1151.5,1001.6 1154.5,989.9 1157.4,976.2 1162.3,972.3 1166.2,968.4 1170.1,947.0 1174.0,927.4 1177.9,898.1 1180.8,898.1 1183.8,917.7 1186.7,941.1 1189.6,966.5 1193.5,976.2 1197.4,986.0 1202.3,995.8 1205.2,1015.3 1209.1,1034.8 1212.1,1038.8 1215.0,1025.1 1218.9,1013.4 1222.8,986.0 1226.7,966.5 1230.6,956.7 1234.5,937.2 1237.5,917.7 1240.4,898.1 1243.3,894.2 1247.2,898.1 1251.1,902.0 1255.0,909.8 1258.9,888.4 1261.9,863.0 1264.8,849.3 1267.7,859.1 1270.7,878.6 1274.6,882.5 1277.5,880.5 1280.4,890.3 1284.3,898.1 1284.9,892.8 1288.3,904.4 1290.8,942.6 1293.2,975.8 1295.7,1000.7 1298.2,1017.3 1300.7,1033.9 1304.0,1038.9 1306.5,1025.6 1309.8,1009.0 1313.2,992.4 1316.5,984.1 1319.8,959.2 1322.3,934.3 1325.6,917.7 1328.9,916.1 1332.3,901.1 1335.6,896.1 1339.7,894.5 1343.0,899.5 1346.4,897.8 1348.9,889.5 1351.3,879.5 1354.7,867.9 1358.0,853.0 1361.3,834.7 1364.6,818.1 1367.9,826.4 1370.4,843.0 1372.9,856.3 1376.2,866.2 1379.6,872.9 1382.9,879.5 1386.2,892.8 1388.7,906.1 1391.2,916.1 1393.7,934.3 1396.2,959.2 1399.5,950.9 1402.0,917.7 1404.5,876.2 1407.0,859.6 1409.5,839.7 1412.8,824.7 1416.1,821.4 1419.4,821.4 1422.7,818.1 1426.9,814.8 1430.2,823.1 1433.5,823.1 1436.8,821.4 1441.0,818.1 1444.3,826.4 1446.8,833.0 1450.1,823.1 1452.6,814.8 1455.9,823.1 1459.3,831.4 1462.6,833.0 1465.9,836.4 1469.2,848.0 1472.5,854.6 1475.9,856.3 1479.2,844.7 1482.5,841.3" fill="none" stroke="#00a651" stroke-width="9" stroke-linejoin="round" stroke-linecap="round"/>
<polyline points="115.4,968.8 119.5,965.8 124.6,953.5 128.7,956.5 131.8,982.2 134.9,1006.7 137.9,1025.2 141.0,1018.0 144.1,1004.7 147.2,1008.8 150.2,1025.2 153.3,1020.1 156.4,1021.1 159.5,1037.5 162.5,1033.4 165.6,1031.3 169.7,1031.3 173.8,1039.5 176.9,1055.9 180.0,1086.6 183.1,1084.6 186.1,1107.1 190.2,1094.8 193.3,1092.8 197.4,1111.2 202.5,1125.6 206.6,1135.8 210.7,1119.4 214.8,1111.2 217.9,1117.4 221.0,1101.0 224.1,1094.8 227.1,1098.9 230.2,1070.2 235.4,1058.0 239.5,1029.3 243.6,1025.2 247.7,1021.1 251.8,1027.2 255.9,1025.2 260.0,1033.4 264.1,1043.6 267.1,1037.5 270.2,1029.3 274.3,1027.2 277.4,1017.0 280.5,1037.5 284.6,1037.5 287.6,1039.5 290.7,1066.2 293.8,1088.7 297.9,1094.8 299.5,1094.6 301.5,1127.7 303.4,1157.0 305.4,1176.5 308.3,1196.0 312.2,1207.7 316.1,1199.9 320.0,1198.0 323.0,1199.9 325.9,1174.6 328.8,1186.3 331.8,1196.0 334.7,1162.9 338.6,1162.9 342.5,1153.1 346.4,1143.3 349.3,1133.6 352.3,1102.4 354.2,1079.0 355.2,1055.5 358.1,1039.9 360.1,1020.4 362.0,1000.9 364.0,971.6 366.9,942.4 370.8,932.6 374.7,938.5 377.7,958.0 379.6,979.4 383.5,981.4 386.4,1000.9 389.4,1030.2 392.3,1059.4 395.2,1088.7 398.2,1137.5 401.1,1153.1 405.0,1172.6 407.9,1153.1 410.9,1168.7 413.8,1153.1 416.7,1174.6 420.6,1176.5 423.6,1182.4 426.5,1168.7 429.4,1147.2 434.3,1141.4 439.2,1131.6 443.1,1108.2 446.0,1092.6 450.9,1084.8 456.8,1077.0 462.6,1079.0 467.5,1086.8 472.4,1094.6 475.3,1127.7 478.2,1147.2 480.7,1139.4 483.7,1147.2 485.6,1166.8 488.6,1176.5 491.5,1192.1 493.4,1207.7 496.4,1215.5 498.3,1231.1 502.2,1242.9 506.1,1252.6 509.1,1242.9 512.0,1227.2 515.9,1227.2 518.8,1215.5 519.8,1199.9 522.7,1188.2 525.7,1180.4 528.6,1157.0 532.5,1137.5 534.5,1098.5 536.4,1059.4 538.4,1020.4 540.3,993.1 543.2,971.6 546.2,952.1 550.1,948.2 553.0,944.3 554.0,928.7 556.9,919.0 560.8,917.0 563.8,920.9 565.7,942.4 567.7,961.9 569.6,981.4 571.6,1004.8 574.5,1016.5 577.4,1020.4 580.4,1036.0 583.3,1045.8 587.2,1053.6 591.1,1045.8 595.0,1039.9 598.9,1032.1 601.8,1036.0 604.8,1030.2 608.7,1024.3 612.6,1022.4 617.5,1016.5 620.4,1020.4 623.3,1036.0 626.2,1053.6 629.2,1069.2 632.1,1088.7 636.0,1090.7 638.9,1108.2 641.9,1118.0 643.8,1127.7 645.8,1137.5 649.7,1141.4 652.6,1151.1 657.5,1157.0 660.4,1153.1 665.3,1155.1 669.2,1153.1 671.7,1153.1 674.6,1137.5 676.6,1127.7 679.5,1118.0 681.5,1108.2 683.4,1104.3 687.3,1102.4 691.2,1094.6 694.2,1079.0 697.1,1071.1 701.0,1063.3 704.9,1057.5 707.9,1069.2 709.8,1088.7 712.7,1098.5 716.6,1104.3 720.5,1106.3 724.5,1110.2 726.4,1121.9 728.4,1137.5 732.3,1147.2 735.2,1157.0 737.1,1180.4 740.1,1160.9 743.0,1153.1 746.9,1155.1 749.8,1147.2 753.8,1145.3 757.7,1160.9 760.6,1145.3 763.5,1141.4 767.4,1143.3 769.4,1133.6 771.3,1123.8 773.3,1118.0 777.2,1114.1 781.1,1108.2 785.0,1104.3 787.9,1088.7 789.9,1075.0 792.8,1071.1 796.7,1063.3 799.6,1055.5 802.6,1057.5 806.5,1059.4 809.4,1065.3 812.3,1053.6 814.3,1039.9 816.2,1020.4 819.2,1010.7 823.1,1004.8 828.0,1008.7 832.9,1004.8 837.7,997.0 840.7,1000.9 842.6,1010.7 845.5,1016.5 848.5,1028.2 850.4,1032.1 853.4,1022.4 857.3,1014.6 860.0,1012.6 863.7,1005.6 867.6,993.9 871.5,990.0 875.4,984.1 879.3,991.9 884.2,995.8 886.1,1009.5 889.1,1029.0 892.0,1044.6 895.9,1048.5 899.8,1054.4 902.7,1068.0 905.7,1048.5 908.6,1029.0 912.5,1015.3 917.4,1009.5 922.3,999.7 925.2,990.0 930.1,982.2 935.0,976.3 938.9,986.1 941.8,997.8 945.7,1009.5 949.6,1019.2 953.5,1009.5 956.4,986.1 959.4,984.1 963.3,988.0 967.2,990.0 971.1,970.5 975.0,962.7 978.9,966.6 982.8,972.4 986.7,990.0 990.6,997.8 994.5,1003.6 998.4,1013.4 1002.3,1025.1 1006.2,1032.9 1010.2,1029.0 1014.1,1017.3 1018.0,1009.5 1021.9,1003.6 1025.8,997.8 1029.7,986.1 1032.6,966.6 1035.5,956.8 1038.5,943.1 1042.4,939.2 1045.3,943.1 1050.0,931.4 1053.7,929.5 1057.6,933.4 1060.5,947.0 1063.4,962.7 1067.3,951.0 1071.2,947.0 1075.2,931.4 1079.1,927.5 1083.0,937.3 1087.9,937.3 1092.7,927.5 1096.6,925.6 1099.6,935.3 1102.5,954.9 1106.4,974.4 1109.3,990.0 1112.3,1005.6 1115.2,1015.3 1118.1,1005.6 1121.1,997.8 1124.0,986.1 1126.9,970.5 1129.8,956.8 1132.8,951.0 1136.7,949.0 1140.6,954.9 1144.5,945.1 1149.4,941.2 1154.3,935.3 1159.1,933.4 1163.0,931.4 1167.0,927.5 1170.9,892.4 1174.8,863.1 1179.6,845.6 1184.5,853.4 1187.5,872.9 1190.4,888.5 1194.3,902.2 1198.2,917.8 1201.1,931.4 1204.1,947.0 1207.0,966.6 1209.9,974.4 1213.8,974.4 1217.7,960.7 1220.7,947.0 1224.6,939.2 1227.5,927.5 1231.4,911.9 1235.3,906.1 1240.0,902.2 1240.8,916.8 1243.5,934.8 1246.2,952.8 1249.8,961.8 1252.5,979.7 1256.1,986.9 1258.8,970.7 1261.5,965.3 1265.1,974.3 1268.7,979.7 1271.4,992.3 1275.0,994.1 1277.7,985.1 1281.3,985.1 1285.8,986.9 1289.4,997.7 1292.1,1015.7 1295.7,1028.3 1298.4,1030.1 1302.0,1015.7 1305.6,1006.7 1308.3,979.7 1311.9,952.8 1315.5,934.8 1318.2,916.8 1320.0,889.8 1321.8,871.8 1323.6,853.9 1326.3,832.3 1329.9,826.9 1333.5,825.1 1338.0,821.5 1341.6,816.1 1346.1,810.7 1347.9,817.9 1349.7,828.7 1353.3,834.1 1356.0,826.9 1358.7,814.3 1361.4,803.5 1365.0,790.9 1367.7,781.9 1371.3,792.7 1375.8,803.5 1379.4,817.9 1382.1,832.3 1385.7,843.1 1388.4,853.9 1391.1,864.6 1392.9,879.0 1394.7,893.4 1397.4,915.0 1400.1,925.8 1402.8,916.8 1405.5,898.8 1408.2,880.8 1410.9,868.2 1413.6,850.3 1416.3,839.5 1419.0,826.9 1421.7,814.3 1425.3,794.5 1428.9,798.1 1433.4,799.9 1437.0,807.1 1439.7,792.7 1443.3,790.9 1446.9,792.7 1450.5,790.9 1454.1,790.9 1456.8,799.9 1459.5,808.9 1463.1,816.1 1465.8,825.1 1469.4,828.7 1473.0,830.5 1475.7,839.5 1477.5,850.3 1479.3,861.0 1482.0,868.2" fill="none" stroke="#ec008c" stroke-width="9" stroke-linejoin="round" stroke-linecap="round"/>
<rect x="962.4" y="763.6" width="199.19999999999993" height="512.6" fill="none" stroke="#6d6e71" stroke-width="8.8"/>
<text x="978" y="1244.7" font-size="35">WW II bias</text>
<rect x="100" y="704.5" width="1398.7" height="623.9000000000001" fill="none" stroke="#231f20" stroke-width="3.5"/>
<text x="73.3" y="708.7" text-anchor="middle" font-size="35">3</text>
<line x1="100" y1="808.5" x2="111" y2="808.5" stroke="#231f20" stroke-width="3"/>
<text x="73.3" y="812.7" text-anchor="middle" font-size="35">2</text>
<line x1="100" y1="912.5" x2="111" y2="912.5" stroke="#231f20" stroke-width="3"/>
<text x="73.3" y="916.7" text-anchor="middle" font-size="35">1</text>
<line x1="100" y1="1016.5" x2="111" y2="1016.5" stroke="#231f20" stroke-width="3"/>
<text x="73.3" y="1020.7" text-anchor="middle" font-size="35">0</text>
<line x1="100" y1="1120.4" x2="111" y2="1120.4" stroke="#231f20" stroke-width="3"/>
<text x="75.0" y="1124.6" text-anchor="middle" font-size="35" letter-spacing="2.5">-1</text>
<line x1="100" y1="1224.4" x2="111" y2="1224.4" stroke="#231f20" stroke-width="3"/>
<text x="75.0" y="1228.6" text-anchor="middle" font-size="35" letter-spacing="2.5">-2</text>
<text x="75.0" y="1332.6" text-anchor="middle" font-size="35" letter-spacing="2.5">-3</text>
<line x1="196.5" y1="1328.4" x2="196.5" y2="1317.4" stroke="#231f20" stroke-width="3"/>
<text x="202.5" y="1364.4" text-anchor="middle" font-size="35">1860</text>
<line x1="292.1" y1="1328.4" x2="292.1" y2="1317.4" stroke="#231f20" stroke-width="3"/>
<line x1="387.8" y1="1328.4" x2="387.8" y2="1317.4" stroke="#231f20" stroke-width="3"/>
<text x="393.8" y="1364.4" text-anchor="middle" font-size="35">1880</text>
<line x1="483.4" y1="1328.4" x2="483.4" y2="1317.4" stroke="#231f20" stroke-width="3"/>
<line x1="579.0" y1="1328.4" x2="579.0" y2="1317.4" stroke="#231f20" stroke-width="3"/>
<text x="585.0" y="1364.4" text-anchor="middle" font-size="35">1900</text>
<line x1="674.6" y1="1328.4" x2="674.6" y2="1317.4" stroke="#231f20" stroke-width="3"/>
<line x1="770.2" y1="1328.4" x2="770.2" y2="1317.4" stroke="#231f20" stroke-width="3"/>
<text x="776.2" y="1364.4" text-anchor="middle" font-size="35">1920</text>
<line x1="865.9" y1="1328.4" x2="865.9" y2="1317.4" stroke="#231f20" stroke-width="3"/>
<line x1="961.5" y1="1328.4" x2="961.5" y2="1317.4" stroke="#231f20" stroke-width="3"/>
<text x="967.5" y="1364.4" text-anchor="middle" font-size="35">1940</text>
<line x1="1057.1" y1="1328.4" x2="1057.1" y2="1317.4" stroke="#231f20" stroke-width="3"/>
<line x1="1152.8" y1="1328.4" x2="1152.8" y2="1317.4" stroke="#231f20" stroke-width="3"/>
<text x="1158.8" y="1364.4" text-anchor="middle" font-size="35">1960</text>
<line x1="1248.4" y1="1328.4" x2="1248.4" y2="1317.4" stroke="#231f20" stroke-width="3"/>
<line x1="1344.0" y1="1328.4" x2="1344.0" y2="1317.4" stroke="#231f20" stroke-width="3"/>
<text x="1350.0" y="1364.4" text-anchor="middle" font-size="35">1980</text>
<line x1="1439.6" y1="1328.4" x2="1439.6" y2="1317.4" stroke="#231f20" stroke-width="3"/>
<text transform="translate(25.5,1024.8) rotate(-90)" text-anchor="middle" font-size="34.8">standard deviations</text>
<text x="141" y="755" font-weight="bold">b</text>
<text x="191" y="755" font-size="34.9">SST: 50°E-70°E, 10°S-10°N</text>
<text x="326" y="825.5" font-size="35">El Nino</text>
<text x="327" y="867.6" font-size="35">1877/78</text>
<text x="502.5" y="850.7" font-size="35">El Nino</text>
<text x="503.5" y="891" font-size="35">1896/97</text>
<line x1="1241.5" y1="1201.7" x2="1289" y2="1201.7" stroke="#2e3192" stroke-width="9" stroke-linecap="round"/>
<line x1="1241.5" y1="1238.3" x2="1289" y2="1238.3" stroke="#00a651" stroke-width="9" stroke-linecap="round"/>
<line x1="1241.5" y1="1279.4" x2="1289" y2="1279.4" stroke="#ec008c" stroke-width="9" stroke-linecap="round"/>
<text x="1298" y="1213.7" font-size="35">HadSST3</text>
<text x="1298" y="1251.1" font-size="35">HadSST2</text>
<text x="1298" y="1292.1" font-size="35">coral</text>
<polyline points="363.4,1561.2 367.3,1567.1 370.3,1574.9 372.2,1588.6 375.2,1594.5 377.1,1604.2 379.1,1617.9 381.0,1637.4 383.9,1657.0 385.3,1666.7" fill="none" stroke="#00a651" stroke-width="9" stroke-linejoin="round" stroke-linecap="round"/><polyline points="402.5,1791.7 404.5,1764.4 407.4,1754.6 411.3,1750.7 415.2,1746.8 418.1,1746.8 421.1,1776.1 424.0,1754.6 427.9,1748.8 430.8,1740.9 434.7,1739.0 437.7,1748.8 440.6,1770.2 443.5,1772.2 446.4,1768.3 449.4,1785.9 451.3,1803.4 455.2,1805.4 458.2,1799.5 462.1,1793.7 464.0,1803.4 466.0,1823.0 468.9,1834.7 471.8,1838.6 473.8,1852.3 476.7,1867.9 479.6,1873.8 482.6,1869.8 485.5,1862.0 488.4,1871.8 491.4,1881.6 494.3,1910.9 497.2,1930.0 499.5,1921.3 502.5,1940.9 505.4,1958.4 507.3,1940.9 509.3,1907.7 512.2,1899.8 516.1,1907.7 520.0,1909.6 523.9,1907.7 526.9,1892.0 527.9,1872.5 529.8,1843.2 531.8,1813.9 534.7,1774.8 537.6,1745.5 540.5,1726.0 544.5,1708.4 548.4,1700.6 551.3,1708.4 554.2,1716.2 557.1,1726.0 560.1,1745.5 563.0,1765.1 565.9,1774.8 568.9,1780.7 570.8,1794.4 573.8,1810.0 577.7,1817.8 580.6,1829.5 583.5,1813.9 586.4,1784.6 589.4,1755.3 592.3,1741.6 595.2,1739.7 598.2,1745.5 601.1,1765.1 605.0,1784.6 607.9,1804.1 610.9,1813.9 613.8,1806.1 616.7,1804.1 619.6,1800.2 622.6,1806.1 625.5,1813.9 628.4,1829.5 631.4,1837.3 634.3,1833.4 637.2,1827.6 640.2,1827.6 644.1,1829.5 647.0,1833.4 649.9,1843.2 651.9,1862.7 654.8,1892.0 657.7,1899.8 660.7,1899.8 663.6,1903.8 666.5,1911.6 670.4,1917.4 674.3,1919.4 677.3,1903.8 680.0,1895.9 680.7,1919.4 683.7,1901.8 686.6,1882.3 689.5,1868.6 694.4,1853.0 697.3,1843.2 699.3,1813.9 702.2,1774.8 706.1,1745.5 710.0,1726.0 713.9,1712.3 720.8,1708.4 724.7,1720.2 728.6,1735.8 732.5,1739.7 735.4,1755.3 737.4,1774.8 739.3,1794.4 742.3,1813.9 745.2,1804.1 748.1,1798.3 751.1,1794.4 754.0,1810.0 756.9,1794.4 759.8,1784.6 762.8,1782.7 765.7,1780.7 768.6,1765.1 771.6,1745.5 775.5,1745.5 778.4,1765.1 780.4,1784.6 783.3,1794.4 787.2,1798.3 791.1,1794.4 795.0,1784.6 798.9,1774.8 802.8,1784.6 806.7,1755.3 810.6,1735.8 814.5,1706.5 818.4,1692.8 822.3,1688.9 826.2,1687.0 830.2,1683.0 834.1,1675.2 838.0,1673.3 841.9,1677.2 844.8,1687.0 847.7,1706.5 850.7,1716.2 853.6,1716.2 856.5,1696.7 860.4,1677.2 865.3,1669.4 870.0,1669.4 870.7,1679.7 874.6,1675.8 878.6,1666.0 882.5,1664.1 885.4,1675.8 888.3,1695.3 891.2,1724.6 894.2,1744.1 897.1,1763.7 900.0,1783.2 902.0,1793.0 904.9,1777.3 907.9,1763.7 911.8,1750.0 915.7,1734.4 918.6,1705.1 922.5,1691.4 926.4,1679.7 929.3,1675.8 932.3,1673.8 936.2,1675.8 940.1,1685.5 944.0,1695.3 947.9,1699.2 951.8,1687.5 955.7,1675.8 961.6,1636.7 967.4,1597.7 971.3,1611.3 975.2,1617.2 978.2,1636.7 981.1,1656.2 985.0,1675.8 987.9,1695.3 990.9,1705.1 994.8,1714.8 998.7,1714.8 1002.6,1710.9 1006.5,1705.1 1010.4,1695.3 1014.3,1689.5 1018.2,1685.5 1022.1,1683.6 1026.0,1685.5 1029.9,1685.5 1033.8,1681.6 1037.7,1671.9 1041.6,1679.7 1045.5,1687.5 1049.5,1695.3 1053.4,1705.1 1057.3,1685.5 1060.0,1671.9 1060.7,1675.8 1063.7,1666.0 1067.6,1668.0 1071.5,1666.0 1075.4,1660.2 1078.3,1652.3 1081.2,1636.7 1085.2,1632.8 1088.1,1636.7 1091.0,1652.3 1093.0,1666.0 1094.9,1685.5 1096.9,1705.1 1099.8,1714.8 1103.7,1724.6 1106.6,1753.9 1109.6,1769.5 1112.5,1777.3 1116.4,1785.2 1119.3,1773.4 1122.3,1753.9 1126.2,1740.2 1129.1,1714.8 1132.0,1695.3 1135.0,1685.5 1137.9,1666.0 1140.8,1646.5 1143.8,1636.7 1147.7,1621.1 1151.6,1617.2 1155.5,1601.6 1161.3,1611.3 1167.2,1621.1 1170.1,1615.2 1174.0,1601.6 1177.9,1582.0 1180.9,1584.0 1183.8,1601.6 1186.7,1627.0 1189.6,1656.2 1192.6,1666.0 1196.5,1668.0 1200.4,1662.1 1204.3,1666.0 1207.2,1669.9 1211.1,1671.9 1215.0,1666.0 1218.9,1652.3 1221.9,1636.7 1224.8,1621.1 1228.7,1632.8 1232.6,1627.0 1236.5,1617.2 1239.5,1636.7 1242.4,1656.2 1245.3,1675.8 1248.2,1691.4 1250.0,1695.3 1252.3,1691.7 1255.4,1699.9 1258.5,1683.5 1262.6,1667.1 1265.6,1671.2 1268.7,1687.6 1272.8,1693.8 1275.9,1691.7 1279.0,1677.4 1283.1,1663.0 1287.2,1667.1 1290.2,1677.4 1293.3,1697.9 1296.4,1718.4 1300.5,1730.7 1304.6,1718.4 1306.7,1687.6 1309.7,1663.0 1312.8,1646.6 1315.9,1626.1 1319.0,1605.6 1321.0,1585.1 1324.1,1558.4 1328.2,1544.1 1332.3,1540.0 1335.4,1535.9 1338.4,1544.1 1342.5,1558.4 1346.6,1560.5 1350.7,1552.3 1353.8,1540.0 1356.9,1519.5 1361.0,1503.0 1365.1,1486.6 1368.2,1482.5 1371.2,1503.0 1374.3,1523.6 1377.4,1540.0 1381.5,1554.3 1385.6,1574.8 1388.7,1585.1 1391.8,1595.3 1394.8,1615.8 1397.9,1605.6 1401.0,1564.6 1404.1,1527.7 1407.1,1513.3 1410.2,1482.5 1413.3,1474.3 1416.4,1466.1 1419.4,1457.9 1422.5,1433.3 1425.6,1423.1 1428.7,1423.1 1431.7,1421.0 1434.8,1429.2 1438.9,1439.5 1443.0,1443.6 1447.1,1447.7 1451.2,1451.8 1454.3,1449.7 1457.4,1457.9 1460.5,1462.0 1464.6,1466.1 1467.6,1474.3 1470.7,1486.6 1473.8,1498.9 1476.9,1501.0 1479.9,1496.9 1483.0,1495.9" fill="none" stroke="#00a651" stroke-width="9" stroke-linejoin="round" stroke-linecap="round"/>
<polyline points="525.9,1823.7 528.8,1804.1 531.8,1774.8 534.7,1755.3 538.6,1735.8 541.5,1735.8 543.5,1716.2 546.4,1716.2 549.3,1726.0 552.3,1745.5 555.2,1765.1 558.1,1784.6 560.1,1804.1 562.0,1823.7 564.0,1833.4 566.9,1837.3 569.8,1843.2 572.8,1837.3 575.7,1843.2 577.7,1862.7 580.6,1882.3 583.5,1872.5 585.5,1843.2 588.4,1804.1 591.3,1774.8 595.2,1755.3 598.2,1751.4 600.1,1765.1 602.1,1784.6 604.0,1813.9 606.0,1833.4 608.9,1843.2 612.8,1843.2 616.7,1837.3 619.6,1843.2 622.6,1862.7 625.5,1872.5 628.4,1882.3 632.3,1888.1 635.3,1882.3 638.2,1872.5 641.1,1868.6 644.1,1853.0 647.0,1843.2 649.9,1853.0 651.9,1872.5 654.8,1882.3 657.7,1892.0 660.7,1890.1 663.6,1901.8 667.5,1907.7 671.4,1911.6 675.3,1917.4 680.0,1915.5 680.7,1921.3 683.7,1901.8 686.6,1882.3 688.6,1862.7 690.5,1843.2 694.4,1841.2 696.4,1823.7 698.3,1804.1 700.3,1784.6 702.2,1765.1 705.2,1745.5 708.1,1726.0 711.0,1702.6 713.9,1698.7 716.9,1716.2 719.8,1722.1 721.8,1735.8 723.7,1755.3 726.6,1765.1 729.6,1774.8 732.5,1784.6 735.4,1804.1 738.4,1823.7 740.3,1833.4 743.2,1843.2 746.2,1853.0 748.1,1833.4 750.1,1813.9 753.0,1800.2 755.9,1784.6 758.9,1770.9 762.8,1770.9 765.7,1765.1 768.6,1745.5 771.6,1735.8 775.5,1733.8 778.4,1745.5 780.4,1765.1 781.3,1784.6 783.3,1794.4 786.2,1800.2 789.1,1810.0 792.1,1804.1 795.0,1794.4 797.9,1774.8 800.9,1765.1 803.8,1774.8 806.7,1784.6 809.6,1784.6 812.6,1765.1 815.5,1745.5 817.5,1735.8 819.4,1716.2 822.3,1700.6 825.3,1700.6 828.2,1706.5 831.1,1716.2 834.1,1712.3 837.0,1696.7 839.9,1687.0 843.8,1688.9 846.8,1706.5 849.7,1720.2 852.6,1731.9 855.5,1751.4 858.5,1753.4 861.4,1751.4 863.4,1726.0 865.3,1708.4 870.0,1704.5 870.7,1714.8 874.6,1726.6 877.6,1718.8 880.5,1714.8 883.4,1724.6 886.4,1744.1 889.3,1757.8 892.2,1763.7 895.2,1783.2 898.1,1802.7 901.0,1816.4 903.9,1804.7 906.9,1793.0 909.8,1777.3 912.7,1769.5 916.6,1757.8 919.6,1744.1 922.5,1724.6 925.4,1705.1 928.4,1695.3 931.3,1679.7 934.2,1685.5 937.1,1705.1 940.1,1714.8 943.0,1716.8 945.9,1710.9 948.9,1714.8 951.8,1720.7 954.7,1714.8 957.7,1675.8 962.5,1627.0 967.4,1584.0 971.3,1585.9 975.2,1593.8 978.2,1607.4 981.1,1627.0 985.0,1636.7 987.9,1636.7 989.9,1666.0 992.8,1675.8 995.7,1695.3 998.7,1724.6 1001.6,1771.5 1004.5,1734.4 1008.4,1705.1 1012.3,1675.8 1015.3,1658.2 1018.2,1669.9 1020.2,1695.3 1023.1,1705.1 1026.0,1714.8 1029.9,1724.6 1032.9,1714.8 1035.8,1705.1 1038.7,1714.8 1042.6,1714.8 1046.5,1724.6 1050.4,1732.4 1054.3,1724.6 1057.3,1714.8 1060.0,1707.0 1063.7,1695.3 1067.6,1687.5 1071.5,1691.4 1075.4,1683.6 1079.3,1675.8 1082.2,1656.2 1085.2,1648.4 1088.1,1660.2 1091.0,1675.8 1093.0,1695.3 1095.9,1714.8 1100.8,1724.6 1103.7,1734.4 1106.6,1750.0 1109.6,1763.7 1113.5,1773.4 1116.4,1777.3 1119.3,1763.7 1121.3,1734.4 1123.2,1724.6 1126.2,1714.8 1128.1,1695.3 1131.1,1681.6 1134.0,1675.8 1136.9,1666.0 1139.8,1646.5 1142.8,1636.7 1145.7,1632.8 1149.6,1625.0 1153.5,1617.2 1156.4,1613.3 1161.3,1617.2 1167.2,1621.1 1171.1,1621.1 1175.0,1609.4 1178.9,1595.7 1181.8,1601.6 1184.8,1617.2 1186.7,1636.7 1188.7,1656.2 1190.6,1675.8 1193.6,1679.7 1197.5,1685.5 1200.4,1675.8 1203.3,1666.0 1206.2,1679.7 1209.2,1693.4 1212.1,1695.3 1215.0,1685.5 1218.0,1675.8 1220.9,1660.2 1223.8,1646.5 1226.8,1632.8 1229.7,1628.9 1232.6,1625.0 1235.5,1613.3 1238.5,1609.4 1241.4,1617.2 1244.3,1636.7 1247.3,1652.3 1250.0,1656.2 1252.3,1667.1 1256.4,1646.6 1260.5,1626.1 1263.6,1617.9 1266.7,1626.1 1269.7,1642.5 1273.8,1646.6 1277.9,1650.7 1281.0,1656.9 1284.1,1642.5 1288.2,1632.2 1291.3,1646.6 1293.3,1677.4 1295.4,1697.9 1298.4,1718.4 1301.5,1724.5 1304.6,1718.4 1306.7,1687.6 1308.7,1667.1 1311.8,1646.6 1314.9,1626.1 1317.9,1605.6 1321.0,1585.1 1324.1,1564.6 1327.2,1544.1 1331.3,1533.8 1335.4,1523.6 1338.4,1527.7 1341.5,1540.0 1344.6,1548.2 1348.7,1556.4 1352.8,1552.3 1355.9,1540.0 1358.9,1523.6 1363.0,1507.1 1366.1,1498.9 1369.2,1523.6 1372.3,1544.1 1375.4,1564.6 1378.4,1576.9 1381.5,1585.1 1384.6,1605.6 1387.7,1626.1 1390.7,1646.6 1393.8,1667.1 1396.9,1683.5 1400.0,1656.9 1403.0,1626.1 1406.1,1585.1 1409.2,1544.1 1412.3,1513.3 1415.3,1490.7 1418.4,1478.4 1421.5,1472.3 1424.6,1457.9 1428.7,1447.7 1432.8,1445.6 1435.8,1462.0 1438.9,1478.4 1443.0,1492.8 1446.1,1503.0 1449.2,1519.5 1453.3,1507.1 1456.4,1523.6 1459.4,1540.0 1463.5,1544.1 1467.6,1554.3 1471.7,1564.6 1475.8,1574.8 1478.9,1564.6 1482.0,1556.4" fill="none" stroke="#2e3192" stroke-width="9" stroke-linejoin="round" stroke-linecap="round"/>
<polyline points="115.4,1652.1 119.5,1649.1 124.6,1636.8 128.7,1639.9 131.8,1665.4 134.9,1690.0 137.9,1708.4 141.0,1701.3 144.1,1688.0 147.2,1692.0 150.2,1708.4 153.3,1703.3 156.4,1704.3 159.5,1720.7 162.5,1716.6 165.6,1714.6 169.7,1714.6 173.8,1722.7 176.9,1739.1 180.0,1769.8 183.1,1767.8 186.1,1790.3 190.2,1778.0 193.3,1776.0 197.4,1794.4 202.5,1808.7 206.6,1818.9 210.7,1802.6 214.8,1794.4 217.9,1800.5 221.0,1784.1 224.1,1778.0 227.1,1782.1 230.2,1753.4 235.4,1741.2 239.5,1712.5 243.6,1708.4 247.7,1704.3 251.8,1710.5 255.9,1708.4 260.0,1716.6 264.1,1726.8 267.1,1720.7 270.2,1712.5 274.3,1710.5 277.4,1700.2 280.5,1720.7 284.6,1720.7 287.6,1722.7 290.7,1749.3 293.8,1771.9 297.9,1778.0 299.5,1777.7 301.5,1810.9 303.4,1840.1 305.4,1859.6 308.3,1879.1 312.2,1890.8 316.1,1883.0 320.0,1881.0 323.0,1883.0 325.9,1857.6 328.8,1869.3 331.8,1879.1 334.7,1845.9 338.6,1845.9 342.5,1836.2 346.4,1826.5 349.3,1816.7 352.3,1785.5 354.2,1762.1 355.2,1738.7 358.1,1723.2 360.1,1703.7 362.0,1684.2 364.0,1654.9 366.9,1625.7 370.8,1616.0 374.7,1621.8 377.7,1641.3 379.6,1662.7 383.5,1664.7 386.4,1684.2 389.4,1713.4 392.3,1742.6 395.2,1771.9 398.2,1820.6 401.1,1836.2 405.0,1855.7 407.9,1836.2 410.9,1851.8 413.8,1836.2 416.7,1857.6 420.6,1859.6 423.6,1865.4 426.5,1851.8 429.4,1830.3 434.3,1824.5 439.2,1814.8 443.1,1791.4 446.0,1775.8 450.9,1768.0 456.8,1760.2 462.6,1762.1 467.5,1769.9 472.4,1777.7 475.3,1810.9 478.2,1830.3 480.7,1822.6 483.7,1830.3 485.6,1849.8 488.6,1859.6 491.5,1875.2 493.4,1890.8 496.4,1898.6 498.3,1914.2 502.2,1925.9 506.1,1935.6 509.1,1925.9 512.0,1910.3 515.9,1910.3 518.8,1898.6 519.8,1883.0 522.7,1871.3 525.7,1863.5 528.6,1840.1 532.5,1820.6 534.5,1781.6 536.4,1742.6 538.4,1703.7 540.3,1676.4 543.2,1654.9 546.2,1635.4 550.1,1631.5 553.0,1627.6 554.0,1612.1 556.9,1602.3 560.8,1600.4 563.8,1604.3 565.7,1625.7 567.7,1645.2 569.6,1664.7 571.6,1688.1 574.5,1699.8 577.4,1703.7 580.4,1719.3 583.3,1729.0 587.2,1736.8 591.1,1729.0 595.0,1723.2 598.9,1715.4 601.8,1719.3 604.8,1713.4 608.7,1707.6 612.6,1705.6 617.5,1699.8 620.4,1703.7 623.3,1719.3 626.2,1736.8 629.2,1752.4 632.1,1771.9 636.0,1773.8 638.9,1791.4 641.9,1801.1 643.8,1810.9 645.8,1820.6 649.7,1824.5 652.6,1834.2 657.5,1840.1 660.4,1836.2 665.3,1838.1 669.2,1836.2 671.7,1836.2 674.6,1820.6 676.6,1810.9 679.5,1801.1 681.5,1791.4 683.4,1787.5 687.3,1785.5 691.2,1777.7 694.2,1762.1 697.1,1754.3 701.0,1746.5 704.9,1740.7 707.9,1752.4 709.8,1771.9 712.7,1781.6 716.6,1787.5 720.5,1789.4 724.5,1793.3 726.4,1805.0 728.4,1820.6 732.3,1830.3 735.2,1840.1 737.1,1863.5 740.1,1844.0 743.0,1836.2 746.9,1838.1 749.8,1830.3 753.8,1828.4 757.7,1844.0 760.6,1828.4 763.5,1824.5 767.4,1826.5 769.4,1816.7 771.3,1807.0 773.3,1801.1 777.2,1797.2 781.1,1791.4 785.0,1787.5 787.9,1771.9 789.9,1758.2 792.8,1754.3 796.7,1746.5 799.6,1738.7 802.6,1740.7 806.5,1742.6 809.4,1748.5 812.3,1736.8 814.3,1723.2 816.2,1703.7 819.2,1693.9 823.1,1688.1 828.0,1692.0 832.9,1688.1 837.7,1680.3 840.7,1684.2 842.6,1693.9 845.5,1699.8 848.5,1711.5 850.4,1715.4 853.4,1705.6 857.3,1697.8 860.0,1695.9 863.7,1688.8 867.6,1677.2 871.5,1673.3 875.4,1667.4 879.3,1675.2 884.2,1679.1 886.1,1692.7 889.1,1712.2 892.0,1727.8 895.9,1731.7 899.8,1737.6 902.7,1751.2 905.7,1731.7 908.6,1712.2 912.5,1698.6 917.4,1692.7 922.3,1683.0 925.2,1673.3 930.1,1665.5 935.0,1659.6 938.9,1669.4 941.8,1681.1 945.7,1692.7 949.6,1702.5 953.5,1692.7 956.4,1669.4 959.4,1667.4 963.3,1671.3 967.2,1673.3 971.1,1653.8 975.0,1646.0 978.9,1649.9 982.8,1655.7 986.7,1673.3 990.6,1681.1 994.5,1686.9 998.4,1696.6 1002.3,1708.3 1006.2,1716.1 1010.2,1712.2 1014.1,1700.5 1018.0,1692.7 1021.9,1686.9 1025.8,1681.1 1029.7,1669.4 1032.6,1649.9 1035.5,1640.1 1038.5,1626.5 1042.4,1622.6 1045.3,1626.5 1050.0,1614.8 1053.7,1612.8 1057.6,1616.7 1060.5,1630.4 1063.4,1646.0 1067.3,1634.3 1071.2,1630.4 1075.2,1614.8 1079.1,1610.9 1083.0,1620.6 1087.9,1620.6 1092.7,1610.9 1096.6,1608.9 1099.6,1618.7 1102.5,1638.2 1106.4,1657.7 1109.3,1673.3 1112.3,1688.8 1115.2,1698.6 1118.1,1688.8 1121.1,1681.1 1124.0,1669.4 1126.9,1653.8 1129.8,1640.1 1132.8,1634.3 1136.7,1632.3 1140.6,1638.2 1144.5,1628.4 1149.4,1624.5 1154.3,1618.7 1159.1,1616.7 1163.0,1614.8 1167.0,1610.9 1170.9,1575.8 1174.8,1546.6 1179.6,1529.0 1184.5,1536.8 1187.5,1556.3 1190.4,1571.9 1194.3,1585.5 1198.2,1601.1 1201.1,1614.8 1204.1,1630.4 1207.0,1649.9 1209.9,1657.7 1213.8,1657.7 1217.7,1644.0 1220.7,1630.4 1224.6,1622.6 1227.5,1610.9 1231.4,1595.3 1235.3,1589.4 1240.0,1585.5 1240.8,1600.2 1243.5,1618.1 1246.2,1636.1 1249.8,1645.1 1252.5,1663.0 1256.1,1670.2 1258.8,1654.0 1261.5,1648.7 1265.1,1657.6 1268.7,1663.0 1271.4,1675.6 1275.0,1677.4 1277.7,1668.4 1281.3,1668.4 1285.8,1670.2 1289.4,1681.0 1292.1,1699.0 1295.7,1711.5 1298.4,1713.3 1302.0,1699.0 1305.6,1690.0 1308.3,1663.0 1311.9,1636.1 1315.5,1618.1 1318.2,1600.2 1320.0,1573.2 1321.8,1555.3 1323.6,1537.3 1326.3,1515.7 1329.9,1510.3 1333.5,1508.5 1338.0,1505.0 1341.6,1499.6 1346.1,1494.2 1347.9,1501.4 1349.7,1512.1 1353.3,1517.5 1356.0,1510.3 1358.7,1497.8 1361.4,1487.0 1365.0,1474.4 1367.7,1465.4 1371.3,1476.2 1375.8,1487.0 1379.4,1501.4 1382.1,1515.7 1385.7,1526.5 1388.4,1537.3 1391.1,1548.1 1392.9,1562.4 1394.7,1576.8 1397.4,1598.4 1400.1,1609.1 1402.8,1600.2 1405.5,1582.2 1408.2,1564.2 1410.9,1551.7 1413.6,1533.7 1416.3,1522.9 1419.0,1510.3 1421.7,1497.8 1425.3,1478.0 1428.9,1481.6 1433.4,1483.4 1437.0,1490.6 1439.7,1476.2 1443.3,1474.4 1446.9,1476.2 1450.5,1474.4 1454.1,1474.4 1456.8,1483.4 1459.5,1492.4 1463.1,1499.6 1465.8,1508.5 1469.4,1512.1 1473.0,1513.9 1475.7,1522.9 1477.5,1533.7 1479.3,1544.5 1482.0,1551.7" fill="none" stroke="#ec008c" stroke-width="9" stroke-linejoin="round" stroke-linecap="round"/>
<rect x="962.4" y="1443.1" width="199.19999999999993" height="512.4000000000001" fill="none" stroke="#6d6e71" stroke-width="8.8"/>
<text x="978" y="1926.5" font-size="35">WW II bias</text>
<rect x="100" y="1388.1" width="1398.7" height="623.2" fill="none" stroke="#231f20" stroke-width="3.5"/>
<text x="73.3" y="1392.3" text-anchor="middle" font-size="35">3</text>
<line x1="100" y1="1492.0" x2="111" y2="1492.0" stroke="#231f20" stroke-width="3"/>
<text x="73.3" y="1496.2" text-anchor="middle" font-size="35">2</text>
<line x1="100" y1="1595.8" x2="111" y2="1595.8" stroke="#231f20" stroke-width="3"/>
<text x="73.3" y="1600.0" text-anchor="middle" font-size="35">1</text>
<line x1="100" y1="1699.7" x2="111" y2="1699.7" stroke="#231f20" stroke-width="3"/>
<text x="73.3" y="1703.9" text-anchor="middle" font-size="35">0</text>
<line x1="100" y1="1803.6" x2="111" y2="1803.6" stroke="#231f20" stroke-width="3"/>
<text x="75.0" y="1807.8" text-anchor="middle" font-size="35" letter-spacing="2.5">-1</text>
<line x1="100" y1="1907.4" x2="111" y2="1907.4" stroke="#231f20" stroke-width="3"/>
<text x="75.0" y="1911.6" text-anchor="middle" font-size="35" letter-spacing="2.5">-2</text>
<text x="75.0" y="2015.5" text-anchor="middle" font-size="35" letter-spacing="2.5">-3</text>
<line x1="196.5" y1="2011.3" x2="196.5" y2="2000.3" stroke="#231f20" stroke-width="3"/>
<text x="202.5" y="2047.3" text-anchor="middle" font-size="35">1860</text>
<line x1="292.1" y1="2011.3" x2="292.1" y2="2000.3" stroke="#231f20" stroke-width="3"/>
<line x1="387.8" y1="2011.3" x2="387.8" y2="2000.3" stroke="#231f20" stroke-width="3"/>
<text x="393.8" y="2047.3" text-anchor="middle" font-size="35">1880</text>
<line x1="483.4" y1="2011.3" x2="483.4" y2="2000.3" stroke="#231f20" stroke-width="3"/>
<line x1="579.0" y1="2011.3" x2="579.0" y2="2000.3" stroke="#231f20" stroke-width="3"/>
<text x="585.0" y="2047.3" text-anchor="middle" font-size="35">1900</text>
<line x1="674.6" y1="2011.3" x2="674.6" y2="2000.3" stroke="#231f20" stroke-width="3"/>
<line x1="770.2" y1="2011.3" x2="770.2" y2="2000.3" stroke="#231f20" stroke-width="3"/>
<text x="776.2" y="2047.3" text-anchor="middle" font-size="35">1920</text>
<line x1="865.9" y1="2011.3" x2="865.9" y2="2000.3" stroke="#231f20" stroke-width="3"/>
<line x1="961.5" y1="2011.3" x2="961.5" y2="2000.3" stroke="#231f20" stroke-width="3"/>
<text x="967.5" y="2047.3" text-anchor="middle" font-size="35">1940</text>
<line x1="1057.1" y1="2011.3" x2="1057.1" y2="2000.3" stroke="#231f20" stroke-width="3"/>
<line x1="1152.8" y1="2011.3" x2="1152.8" y2="2000.3" stroke="#231f20" stroke-width="3"/>
<text x="1158.8" y="2047.3" text-anchor="middle" font-size="35">1960</text>
<line x1="1248.4" y1="2011.3" x2="1248.4" y2="2000.3" stroke="#231f20" stroke-width="3"/>
<line x1="1344.0" y1="2011.3" x2="1344.0" y2="2000.3" stroke="#231f20" stroke-width="3"/>
<text x="1350.0" y="2047.3" text-anchor="middle" font-size="35">1980</text>
<line x1="1439.6" y1="2011.3" x2="1439.6" y2="2000.3" stroke="#231f20" stroke-width="3"/>
<text transform="translate(25.5,1694.1) rotate(-90)" text-anchor="middle" font-size="34.8">standard deviations</text>
<text x="141" y="1438.2" font-weight="bold">c</text>
<text x="191" y="1438.2" font-size="34.9">Air T: 50°E-70°E, 10°S-10°N</text>
<text x="326" y="1501.5" font-size="35">El Nino</text>
<text x="327" y="1543.6" font-size="35">1877/78</text>
<text x="502.5" y="1526.3" font-size="35">El Nino</text>
<text x="503.5" y="1568.1" font-size="35">1896/97</text>
<line x1="1245.5" y1="1885.5" x2="1293.5" y2="1885.5" stroke="#2e3192" stroke-width="9" stroke-linecap="round"/>
<line x1="1245.5" y1="1922.8" x2="1293.5" y2="1922.8" stroke="#00a651" stroke-width="9" stroke-linecap="round"/>
<line x1="1245.5" y1="1960.1" x2="1293.5" y2="1960.1" stroke="#ec008c" stroke-width="9" stroke-linecap="round"/>
<text x="1303" y="1898.2" font-size="35">HadNMAT2</text>
<text x="1303" y="1934.8" font-size="35">HadMAT1</text>
<text x="1303" y="1972.1" font-size="35">coral</text>
</svg></body></html>
